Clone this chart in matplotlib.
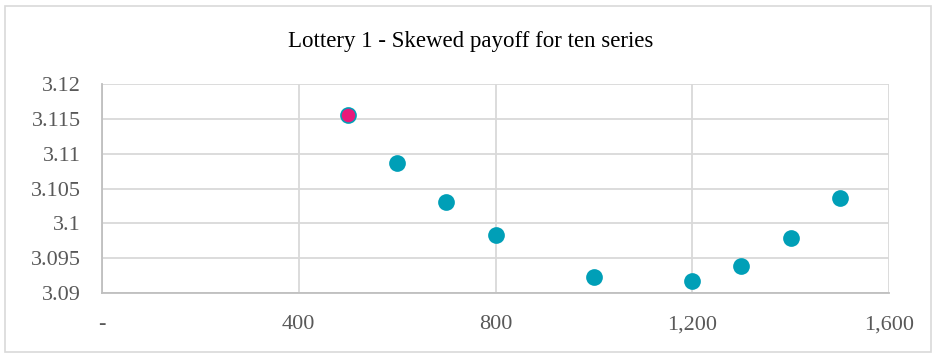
import matplotlib
matplotlib.use("Agg")
import matplotlib.pyplot as plt
from matplotlib.patches import Rectangle
from matplotlib.ticker import FixedLocator, FuncFormatter

# ten series, payoff vs. sample size
sizes = [500, 600, 700, 800, 1000, 1200, 1300, 1400, 1500]
payoff = [3.1155, 3.1087, 3.1030, 3.0983, 3.0923, 3.0917, 3.0939, 3.0979, 3.1037]
best_size = [500]
best_payoff = [3.1155]

x_ticks = [0, 400, 800, 1200, 1600]
y_ticks = [3.09, 3.095, 3.1, 3.105, 3.11, 3.115, 3.12]
y_labels = ["3.09", "3.095", "3.1", "3.105", "3.11", "3.115", "3.12"]

TEAL = "#009fb7"
PINK = "#e8197a"
GRID = "#d9d9d9"
TEXT = "#595959"

plt.rcParams["font.family"] = ["Liberation Serif", "DejaVu Serif"]

fig = plt.figure(figsize=(9.36, 3.56), dpi=100)
ax = fig.add_axes([102 / 936, 1 - 293 / 356, (889 - 102) / 936, (293 - 84) / 356])

# chart border
fig.patches.append(Rectangle((5 / 936, 4 / 356), 926 / 936, 346 / 356,
                             transform=fig.transFigure, fill=False,
                             edgecolor=GRID, linewidth=1.2))

ax.scatter(sizes, payoff, s=145, color=TEAL, zorder=3, linewidths=0)
ax.scatter(best_size, best_payoff, s=95, color=PINK, zorder=4, linewidths=0)

ax.set_xlim(0, 1600)
ax.set_ylim(3.09, 3.12)
ax.xaxis.set_major_locator(FixedLocator(x_ticks))
ax.xaxis.set_major_formatter(FuncFormatter(lambda v, p: "-" if v == 0 else f"{v:,.0f}"))
ax.set_yticks(y_ticks)
ax.set_yticklabels(y_labels)

ax.grid(True, color=GRID, linewidth=1.3)
ax.set_axisbelow(True)
for side in ["top", "right"]:
    ax.spines[side].set_visible(False)
for side in ["left", "bottom"]:
    ax.spines[side].set_color("#bfbfbf")
    ax.spines[side].set_linewidth(1.3)
ax.tick_params(length=0, labelsize=16, colors=TEXT)
ax.tick_params(axis="x", pad=16)
ax.tick_params(axis="y", pad=15)

fig.text(471 / 936, 1 - 41 / 356, "Lottery 1 - Skewed payoff for ten series",
         ha="center", va="center", fontsize=16.5, color="#000000")

fig.savefig("out.png", dpi=100)
